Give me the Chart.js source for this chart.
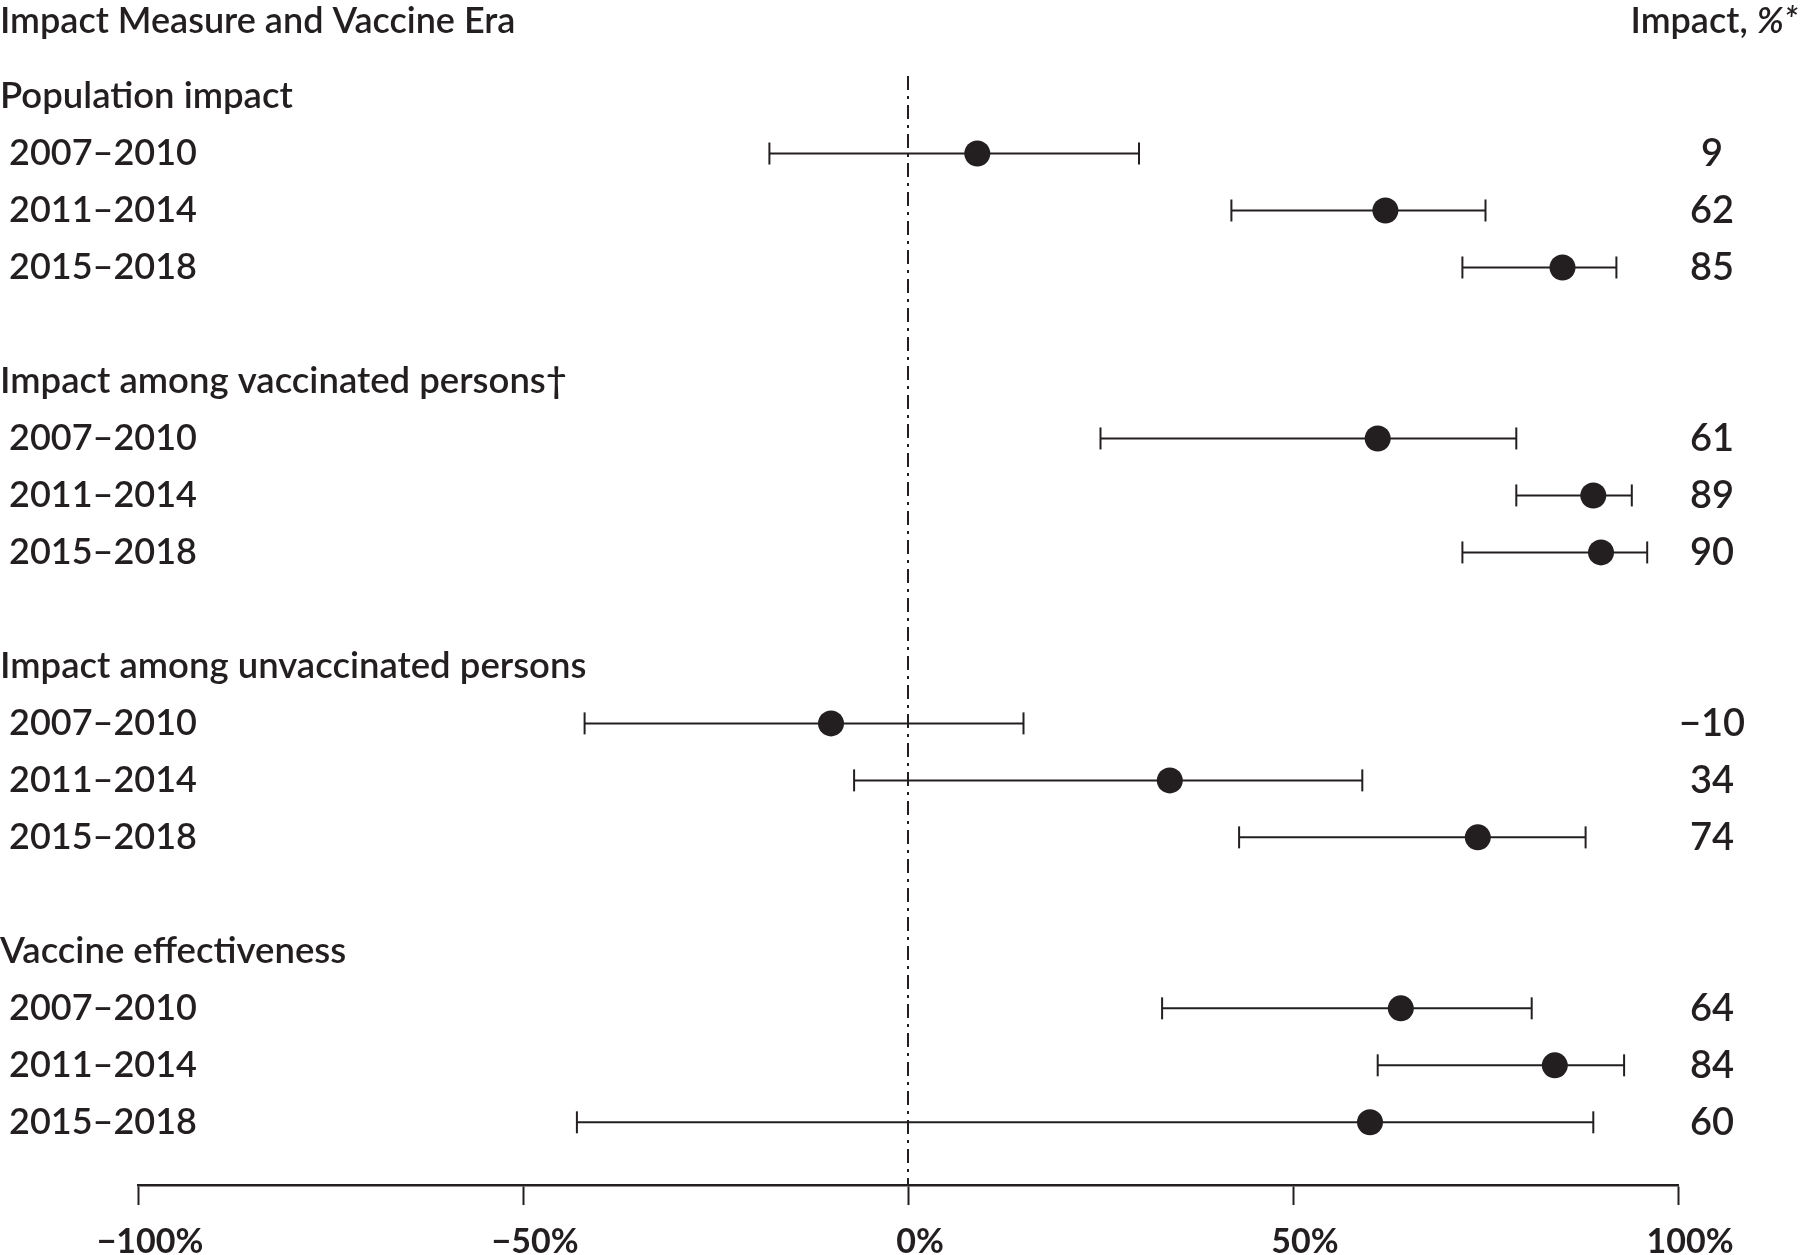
<!DOCTYPE html>
<html>
<head>
<meta charset="utf-8">
<script src="https://cdn.jsdelivr.net/npm/chart.js@4.4.0/dist/chart.umd.min.js"></script>
<style>
  html, body { margin: 0; padding: 0; background: #fff; }
</style>
</head>
<body>
<canvas id="forest" width="1800" height="1255"></canvas>
<script>
// Forest plot data
const groups = [
  'Population impact',
  'Impact among vaccinated persons\u2020',
  'Impact among unvaccinated persons',
  'Vaccine effectiveness'
];
const eras = ['2007\u20132010', '2011\u20132014', '2015\u20132018'];
const impact = [9, 62, 85, 61, 89, 90, -10, 34, 74, 64, 84, 60];
const ciLow  = [-18, 42, 72, 25, 79, 72, -42, -7, 43, 33, 61, -43];
const ciHigh = [30, 75, 92, 79, 94, 96, 15, 59, 88, 81, 93, 89];
const xTicks = [-100, -50, 0, 50, 100];

const titleLeft = 'Impact Measure and Vaccine Era';
const titleRight = 'Impact, ';
const titleRightIt = '%*';

const ink = '#231f20';
const rowsPerGroup = 5; // header + 3 eras + gap
const yMin = -0.36, yMax = 19.1;

const fmt = v => (v < 0 ? '\u2212' : '') + Math.abs(v);
const rowOf = i => Math.floor(i / eras.length) * rowsPerGroup + 1 + (i % eras.length);

// row -> right-hand value text
const valueText = {};
impact.forEach((v, i) => { valueText[rowOf(i)] = fmt(v); });
const valueRows = Object.keys(valueText).map(Number);

// Confidence intervals: one short line per row, capped with vertical line points
const ciSets = impact.map((v, i) => ({
  data: [{ x: ciLow[i], y: rowOf(i) }, { x: ciHigh[i], y: rowOf(i) }],
  showLine: true,
  borderColor: ink,
  borderWidth: 2,
  pointStyle: 'line',
  pointRotation: 90,
  pointRadius: 11,
  pointBorderWidth: 2,
  pointBorderColor: ink,
  order: 1
}));

const pointSet = {
  data: impact.map((v, i) => ({ x: v, y: rowOf(i) })),
  pointRadius: 13,
  pointBackgroundColor: ink,
  pointBorderWidth: 0,
  order: 0
};

const zeroLine = {
  data: [{ x: 0, y: yMin }, { x: 0, y: yMax }],
  showLine: true,
  borderColor: ink,
  borderWidth: 2,
  borderDash: [14, 6, 3, 6],
  pointRadius: 0,
  order: 2
};

// Column headings and the row labels (group headers + eras) on the left
const textLayer = {
  id: 'textLayer',
  afterDraw(chart) {
    const ctx = chart.ctx;
    const y = chart.scales.y;
    ctx.save();
    ctx.fillStyle = ink;
    ctx.textBaseline = 'alphabetic';
    ctx.font = '600 36px Lato';
    ctx.textAlign = 'left';
    ctx.fillText(titleLeft, 0, 33);
    ctx.font = 'italic 600 36px Lato';
    const wIt = ctx.measureText(titleRightIt).width;
    ctx.textAlign = 'right';
    ctx.fillText(titleRightIt, 1798, 33);
    ctx.font = '600 36px Lato';
    ctx.fillText(titleRight, 1798 - wIt, 33);

    ctx.textAlign = 'left';
    ctx.textBaseline = 'middle';
    ctx.font = '600 36.5px Lato';
    groups.forEach((g, gi) => {
      ctx.fillText(g, 0, y.getPixelForValue(gi * rowsPerGroup));
    });
    ctx.font = '600 36px Lato';
    impact.forEach((v, i) => {
      ctx.fillText(eras[i % eras.length], 9, y.getPixelForValue(rowOf(i)));
    });
    ctx.restore();
  }
};

new Chart(document.getElementById('forest'), {
  type: 'scatter',
  data: { datasets: [...ciSets, pointSet, zeroLine] },
  options: {
    responsive: false,
    devicePixelRatio: 1,
    animation: false,
    layout: { padding: { top: 76, left: 138, right: 0, bottom: 0 } },
    plugins: { legend: { display: false }, tooltip: { enabled: false } },
    scales: {
      x: {
        type: 'linear', min: -100, max: 100,
        afterBuildTicks: s => { s.ticks = xTicks.map(v => ({ value: v })); },
        afterFit: s => { s.height = 70; },
        grid: { drawOnChartArea: false, drawTicks: true, tickLength: 20, tickWidth: 2, tickColor: ink, color: ink },
        border: { color: ink, width: 2.5 },
        ticks: { color: ink, padding: 17, labelOffset: 12, font: { family: 'Lato', size: 34, weight: 700 }, callback: v => fmt(v) + '%' }
      },
      y: {
        type: 'linear', reverse: true, min: yMin, max: yMax,
        display: false
      },
      y2: {
        type: 'linear', position: 'right', reverse: true, min: yMin, max: yMax,
        afterBuildTicks: s => { s.ticks = valueRows.map(v => ({ value: v })); },
        afterFit: s => { s.width = 122; },
        grid: { display: false },
        border: { display: false },
        ticks: { autoSkip: false, crossAlign: 'center', padding: -7, color: ink, font: { family: 'Lato', size: 38, weight: 600 }, callback: v => valueText[v] ?? '' }
      }
    }
  },
  plugins: [textLayer]
});
</script>
</body>
</html>
